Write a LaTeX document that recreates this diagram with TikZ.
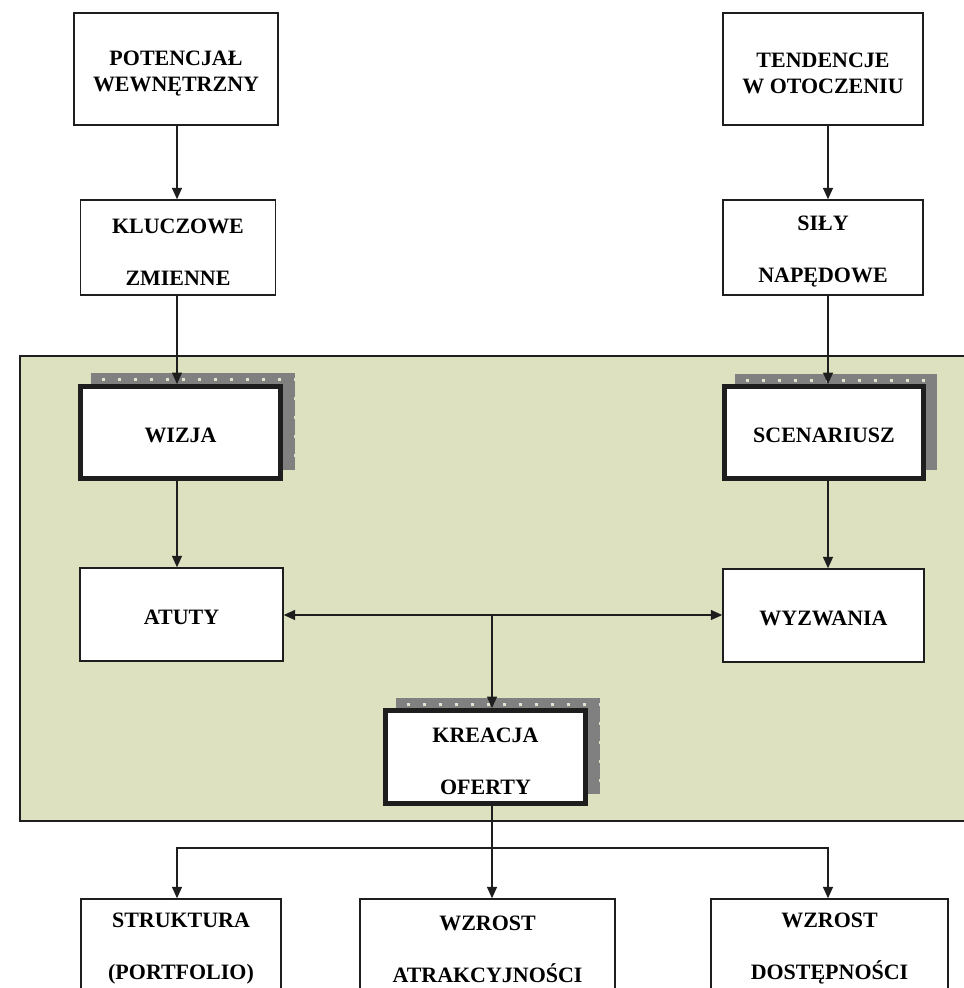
\documentclass[tikz,border=0pt]{standalone}
\usepackage{fontspec}
\setmainfont{Liberation Serif}
\usetikzlibrary{arrows.meta,calc}

\definecolor{panelgreen}{RGB}{221,225,191}
\definecolor{inkline}{RGB}{30,30,30}
\definecolor{shadegray}{RGB}{128,128,128}
\definecolor{shadedot}{RGB}{226,229,206}

% invisible rules giving single-line labels the same top and bottom extent
\newcommand\toprule{\rule{0pt}{0.44cm}}
\newcommand\botrule{\rule[-0.048cm]{0pt}{0.048cm}}

% dotted grey drop shadow: corners (x1,y1) (x2,y2) in pixel units
\newcommand\dotshadow[4]{%
  \begin{scope}
    \clip (#1,#2) rectangle (#3,#4);
    \fill[shadegray] (#1,#2) rectangle (#3,#4);
    \foreach \i in {0,...,14}{
      \foreach \j in {0,...,5}{
        \fill[shadedot] ({#1+10.5+16*\i},{#2+4.5+19*\j}) rectangle ++(3,3);
      }
    }
  \end{scope}}

\begin{document}
\begin{tikzpicture}[x=0.02cm,y=-0.02cm,
  every node/.style={font=\bfseries\fontsize{12.5pt}{0.52cm}\selectfont,
    align=center, inner sep=0pt},
  evenlabel/.style={execute at begin node=\toprule, execute at end node=\botrule},
  pairtext/.style={yshift=-0.09cm},
  plainbox/.style={draw=inkline, line width=0.8pt, fill=white},
  keybox/.style={draw=inkline, line width=0.1cm, fill=white},
  link/.style={draw=inkline, line width=0.8pt},
  tip/.style={-{Triangle[length=0.23cm,width=0.2cm]}},
  bothtips/.style={{Triangle[length=0.23cm,width=0.2cm]}-{Triangle[length=0.23cm,width=0.2cm]}}]

\useasboundingbox (0,0) rectangle (964,988);

% shaded working area
\fill[panelgreen] (20,356) rectangle (990,821);
\draw[inkline, line width=0.8pt] (990,356) -- (20,356) -- (20,821) -- (990,821);

% shadows behind the key boxes
\dotshadow{91}{373}{295}{470}
\dotshadow{735}{374}{937}{470}
\dotshadow{396}{698}{600}{794}

% connector columns
\coordinate (colL) at (177,0);
\coordinate (colM) at (492,0);
\coordinate (colR) at (828,0);

% top row
\node[plainbox, minimum width=4.08cm, minimum height=2.24cm,
  label={[pairtext, name=pot-text]center:{POTENCJAŁ\\WEWNĘTRZNY}}] (pot) at (176,69) {};
\node[plainbox, minimum width=4.0cm, minimum height=2.24cm,
  label={[pairtext, name=ten-text]center:{TENDENCJE\\W OTOCZENIU}}] (ten) at (823,69) {};

% second row
\node[plainbox, minimum width=3.9cm, minimum height=1.9cm,
  label={[pairtext, name=klu-text]center:{KLUCZOWE\\[0.52cm]ZMIENNE}}] (klu) at (178,247.5) {};
\node[plainbox, minimum width=4.0cm, minimum height=1.9cm,
  label={[pairtext, name=sil-text]center:{SIŁY\\[0.52cm]NAPĘDOWE}}] (sil) at (823,247.5) {};

% key boxes
\node[keybox, evenlabel, minimum width=4.0cm, minimum height=1.84cm] (wiz) at (180.5,432.5) {WIZJA};
\node[keybox, evenlabel, minimum width=3.98cm, minimum height=1.84cm] (sce) at (824,432.5) {SCENARIUSZ};

% strengths and challenges
\node[plainbox, evenlabel, minimum width=4.06cm, minimum height=1.86cm] (atu) at (181.5,614.5) {ATUTY};
\node[plainbox, evenlabel, minimum width=4.02cm, minimum height=1.86cm] (wyz) at (823.5,615.5) {WYZWANIA};

% offer creation
\node[keybox, minimum width=4.0cm, minimum height=1.86cm,
  label={[pairtext, name=kre-text]center:{KREACJA\\[0.52cm]OFERTY}}] (kre) at (485.5,757) {};

% outcomes
\node[plainbox, minimum width=4.0cm, minimum height=1.82cm,
  label={[pairtext, name=str-text]center:{STRUKTURA\\[0.52cm](PORTFOLIO)}}] (str) at (181,944.5) {};
\node[plainbox, minimum width=5.1cm, minimum height=1.82cm,
  label={[pairtext, name=wza-text]center:{WZROST\\[0.52cm]ATRAKCYJNOŚCI}}] (wza) at (487.5,944.5) {};
\node[plainbox, minimum width=4.74cm, minimum height=1.82cm,
  label={[pairtext, name=wzd-text]center:{WZROST\\[0.52cm]DOSTĘPNOŚCI}}] (wzd) at (829.5,944.5) {};

% left chain
\draw[link, tip] (colL |- pot.south) -- (colL |- klu.north);
\draw[link, tip] (colL |- klu.south) -- (colL |- wiz.north);
\draw[link, tip] (colL |- wiz.south) -- (colL |- atu.north);

% right chain
\draw[link, tip] (colR |- ten.south) -- (colR |- sil.north);
\draw[link, tip] (colR |- sil.south) -- (colR |- sce.north);
\draw[link, tip] (colR |- sce.south) -- (colR |- wyz.north);

% strengths <-> challenges, feeding the offer
\coordinate (hub) at (colM |- 0,615);
\draw[link, bothtips] (atu.east |- hub) -- (wyz.west |- hub);
\draw[link, tip] (hub) -- (colM |- kre.north);

% offer distributed to the outcomes
\coordinate (fork) at (colM |- 0,848);
\draw[link] (colM |- kre.south) -- (fork);
\draw[link, tip] (fork) -| (colL |- str.north);
\draw[link, tip] (fork) -- (colM |- wza.north);
\draw[link, tip] (fork) -| (colR |- wzd.north);

\end{tikzpicture}
\end{document}
